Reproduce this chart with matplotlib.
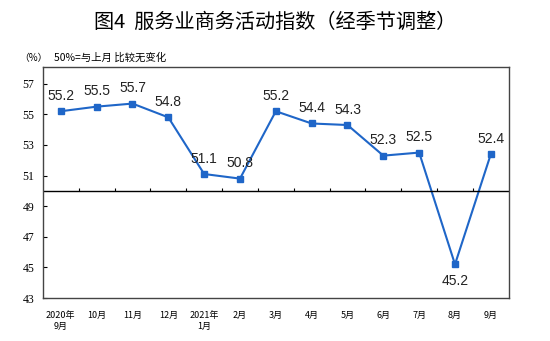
import numpy as np
import matplotlib.pyplot as plt

plt.rcParams['font.family'] = ['Noto Sans CJK SC', 'DejaVu Sans']

months = ['2020年\n9月', '10月', '11月', '12月', '2021年\n1月', '2月', '3月',
          '4月', '5月', '6月', '7月', '8月', '9月']
index = [55.2, 55.5, 55.7, 54.8, 51.1, 50.8, 55.2, 54.4, 54.3, 52.3, 52.5, 45.2, 52.4]
yticks = [43, 45, 47, 49, 51, 53, 55, 57]

blue = '#1f66c8'

fig = plt.figure(figsize=(5.5, 3.41), dpi=100)
ax = fig.add_axes([0.078, 0.126, 0.847, 0.678])

x = np.arange(len(index))
ax.plot(x, index, color=blue, lw=1.5, marker='s', ms=4.5, mec=blue, mfc=blue)

# value labels, the dip in August goes underneath
for xi, v in zip(x, index):
    if v < 50:
        ax.annotate(f'{v}', (xi, v), xytext=(0, -7), textcoords='offset points',
                    ha='center', va='top', fontsize=10, family='Liberation Sans',
                    color='#222222')
    else:
        ax.annotate(f'{v}', (xi, v), xytext=(0, 6), textcoords='offset points',
                    ha='center', va='bottom', fontsize=10, family='Liberation Sans',
                    color='#222222')

# 50 line acts as the category axis
ax.axhline(50, color='black', lw=1)
ax.vlines(np.arange(0.5, len(index) - 1), 50, 50.2, color='black', lw=0.8)

ax.set_xlim(-0.5, len(index) - 0.5)
ax.set_ylim(43, 58.1)
ax.set_yticks(yticks)
ax.set_yticklabels([str(t) for t in yticks], family='Liberation Serif', fontsize=8.5)
ax.tick_params(axis='y', direction='in', length=3, width=0.8, pad=6)
ax.set_xticks(x)
ax.set_xticklabels(months, fontsize=6.5, linespacing=1.4)
ax.tick_params(axis='x', length=0, pad=9)
for s in ax.spines.values():
    s.set_color('#444444')
    s.set_linewidth(1)

fig.text(0.5, 0.935, '图4  服务业商务活动指数（经季节调整）', ha='center', va='center',
         fontsize=14.5, color='black')
fig.text(0.035, 0.83, '（%）', ha='left', va='center', fontsize=7)
fig.text(0.098, 0.83, '50%=与上月 比较无变化', ha='left', va='center', fontsize=7.5)

fig.savefig('out.png', dpi=100)
